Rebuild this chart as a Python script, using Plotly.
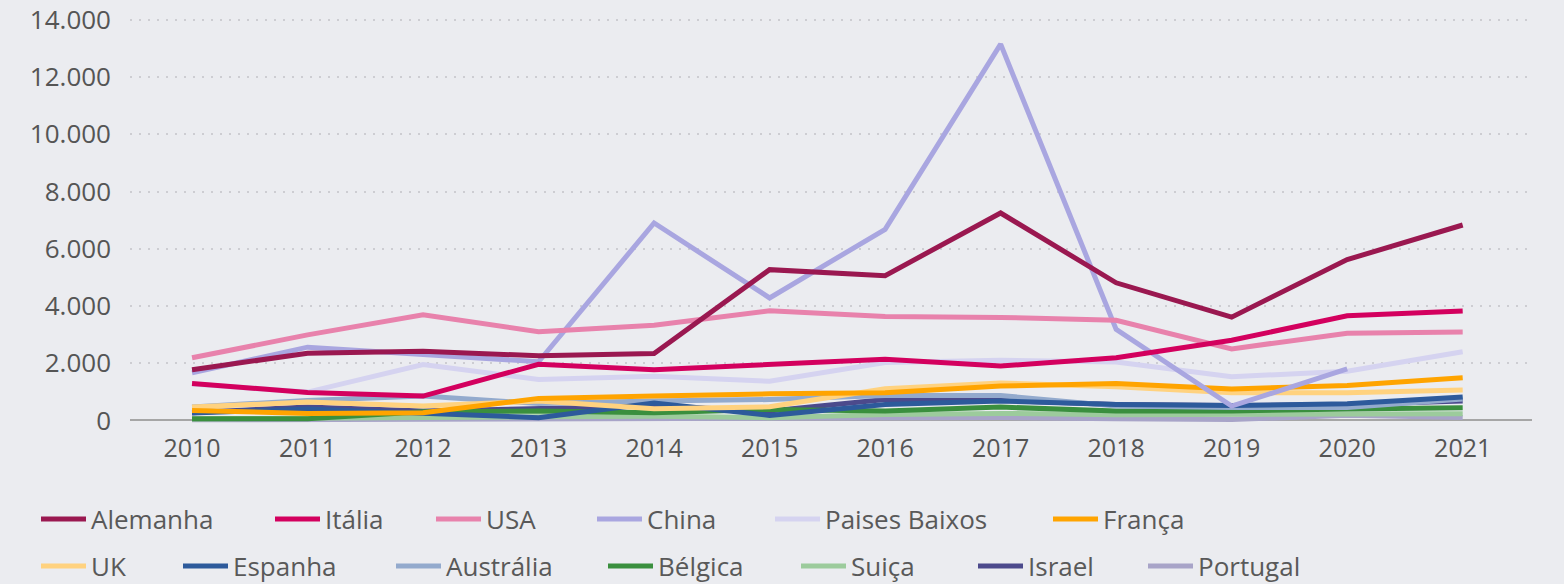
import plotly.graph_objects as go

years = ["2010", "2011", "2012", "2013", "2014", "2015", "2016", "2017", "2018", "2019", "2020", "2021"]

alemanha = [1770, 2350, 2420, 2260, 2340, 5270, 5060, 7250, 4810, 3610, 5620, 6830]
italia = [1290, 980, 850, 1960, 1770, 1960, 2140, 1900, 2190, 2800, 3660, 3820]
usa = [2190, 2990, 3690, 3100, 3330, 3830, 3630, 3600, 3500, 2500, 3050, 3090]
china = [1660, 2560, 2300, 2050, 6900, 4280, 6680, 13150, 3180, 500, 1800, None]
paises_baixos = [1270, 990, 1955, 1430, 1540, 1370, 2020, 2100, 2040, 1525, 1720, 2400]
franca = [350, 245, 270, 770, 850, 930, 965, 1200, 1290, 1100, 1220, 1490]
uk = [465, 640, 500, 675, 410, 475, 1105, 1310, 1180, 970, 970, 1060]
espanha = [260, 400, 250, 95, 610, 175, 560, 675, 560, 520, 580, 815]
australia = [470, 700, 850, 590, 675, 730, 870, 870, 500, 450, 450, 750]
belgica = [60, 60, 300, 330, 270, 385, 325, 465, 330, 330, 400, 440]
suica = [50, 80, 140, 130, 150, 95, 210, 245, 200, 220, 250, 230]
israel = [270, 470, 330, 420, 500, 330, 730, 700, 560, 520, 560, 675]
portugal = [20, 30, 40, 50, 35, 40, 80, 100, 60, 30, 180, 100]

series = [
    ("Alemanha", alemanha, "#9A1850"),
    ("Itália", italia, "#D3005E"),
    ("USA", usa, "#E882AC"),
    ("China", china, "#A9A6E0"),
    ("Paises Baixos", paises_baixos, "#D5D3F0"),
    ("França", franca, "#FFA400"),
    ("UK", uk, "#FFD27F"),
    ("Espanha", espanha, "#2D5A9B"),
    ("Austrália", australia, "#93AACD"),
    ("Bélgica", belgica, "#3A8F3E"),
    ("Suiça", suica, "#9CCB9C"),
    ("Israel", israel, "#4C4A8C"),
    ("Portugal", portugal, "#A8A4C8"),
]

# legend placement (item left edge in px, row center in px)
legend_pos = [
    (41, 519), (275, 519), (436, 519), (597, 519), (775, 519), (1053, 519),
    (41, 566), (183, 566), (396, 566), (608, 566), (801, 566), (978, 566), (1148, 566),
]

W, H = 1564, 584
BG = "#EBECF0"
TXT = "#595959"
FONT = "Open Sans"

fig = go.Figure()
# earlier series are drawn on top in the reference -> add in reverse order
for i in reversed(range(len(series))):
    name, vals, color = series[i]
    lg = "legend" if i == 0 else f"legend{i+1}"
    fig.add_trace(go.Scatter(
        x=years, y=vals, name=name, mode="lines",
        line=dict(color=color, width=5),
        legend=lg, connectgaps=False, showlegend=True,
    ))

layout_legends = {}
for i, (px, py) in enumerate(legend_pos):
    key = "legend" if i == 0 else f"legend{i+1}"
    layout_legends[key] = dict(
        xref="container", yref="container",
        x=(px - 5) / W, y=1 - py / H,
        xanchor="left", yanchor="middle",
        orientation="h",
        bgcolor="rgba(0,0,0,0)",
        font=dict(family=FONT, size=26, color=TXT),
        itemwidth=45,
        visible=True,
    )

fig.update_layout(
    width=W, height=H,
    showlegend=True,
    paper_bgcolor=BG, plot_bgcolor=BG,
    margin=dict(l=130, r=32, t=17, b=155, autoexpand=False),
    separators=",.",
    font=dict(family=FONT, size=25, color=TXT),
    xaxis=dict(
        type="category",
        range=[-0.537, 11.6],
        showgrid=False, zeroline=False, showline=False,
        ticks="", tickfont=dict(family=FONT, size=25, color="#555555", weight=500),
        ticklabelstandoff=2,
    ),
    yaxis=dict(
        range=[-300, 14100],
        tickvals=[0, 2000, 4000, 6000, 8000, 10000, 12000, 14000],
        tickformat=",d",
        showgrid=True, gridcolor="#CDCDD2", gridwidth=2, griddash="2px,7px",
        zeroline=True, zerolinecolor="#A6A6A6", zerolinewidth=2,
        showline=False, ticks="",
        tickfont=dict(family=FONT, size=26, color="#555555", weight=500),
        ticklabelstandoff=18,
    ),
    **layout_legends,
)

fig.write_html(
    "out.html",
    config={"displayModeBar": False},
    post_script="document.body.style.margin='0';document.body.style.background='" + BG + "';",
)
